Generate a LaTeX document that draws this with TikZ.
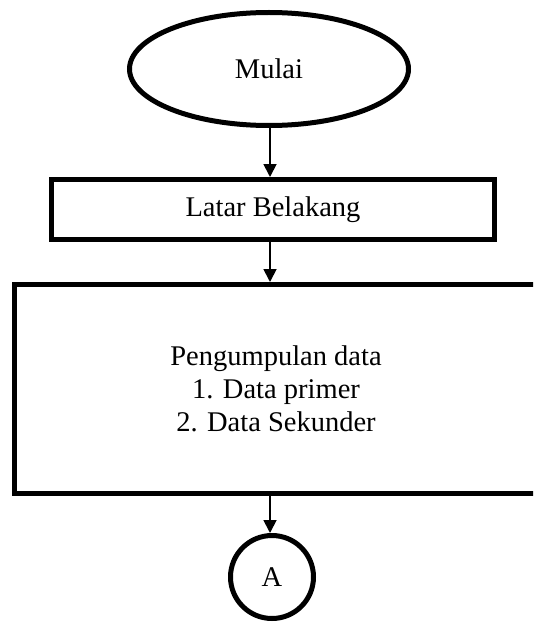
\documentclass[tikz,border=0pt]{standalone}
\usepackage{fontspec}
\setmainfont{Liberation Serif}
\usetikzlibrary{shapes.geometric,arrows.meta}

\tikzset{
  thickline/.style={draw=black, line width=5pt},
  terminal/.style={thickline, ellipse, minimum width=279pt, minimum height=113pt, inner sep=0pt},
  processbox/.style={thickline, rectangle, inner sep=0pt},
  connector/.style={thickline, circle, minimum size=83pt, inner sep=0pt},
  flow/.style={draw=black, line width=1.8pt, -{Triangle[width=13pt,length=13pt]}},
  label/.style={font=\fontsize{28.5}{33}\selectfont, align=center}
}

\begin{document}
\begin{tikzpicture}[x=1pt,y=-1pt]
  \useasboundingbox (0,0) rectangle (533,623);
  \clip (0,0) rectangle (533,623);

  % start terminator
  \node[terminal, label] (mulai) at (269,69) {Mulai};

  % background step
  \node[processbox, label, minimum width=443pt, minimum height=60pt] (latar) at (273,209.5) {Latar Belakang};

  % data collection step (runs past the right edge)
  \node[processbox, label, minimum width=523pt, minimum height=209pt] (kumpul) at (276,389)
    {Pengumpulan data\\1. Data primer\\2. Data Sekunder};

  % off-page connector
  \node[connector, label] (a) at (272,577) {A};

  % flow arrows
  \draw[flow] (mulai.south -| 270,0) -- (270,0 |- latar.north);
  \draw[flow] (270,0 |- latar.south) -- (270,0 |- kumpul.north);
  \draw[flow] (270,0 |- kumpul.south) -- (270,0 |- a.north);
\end{tikzpicture}
\end{document}
